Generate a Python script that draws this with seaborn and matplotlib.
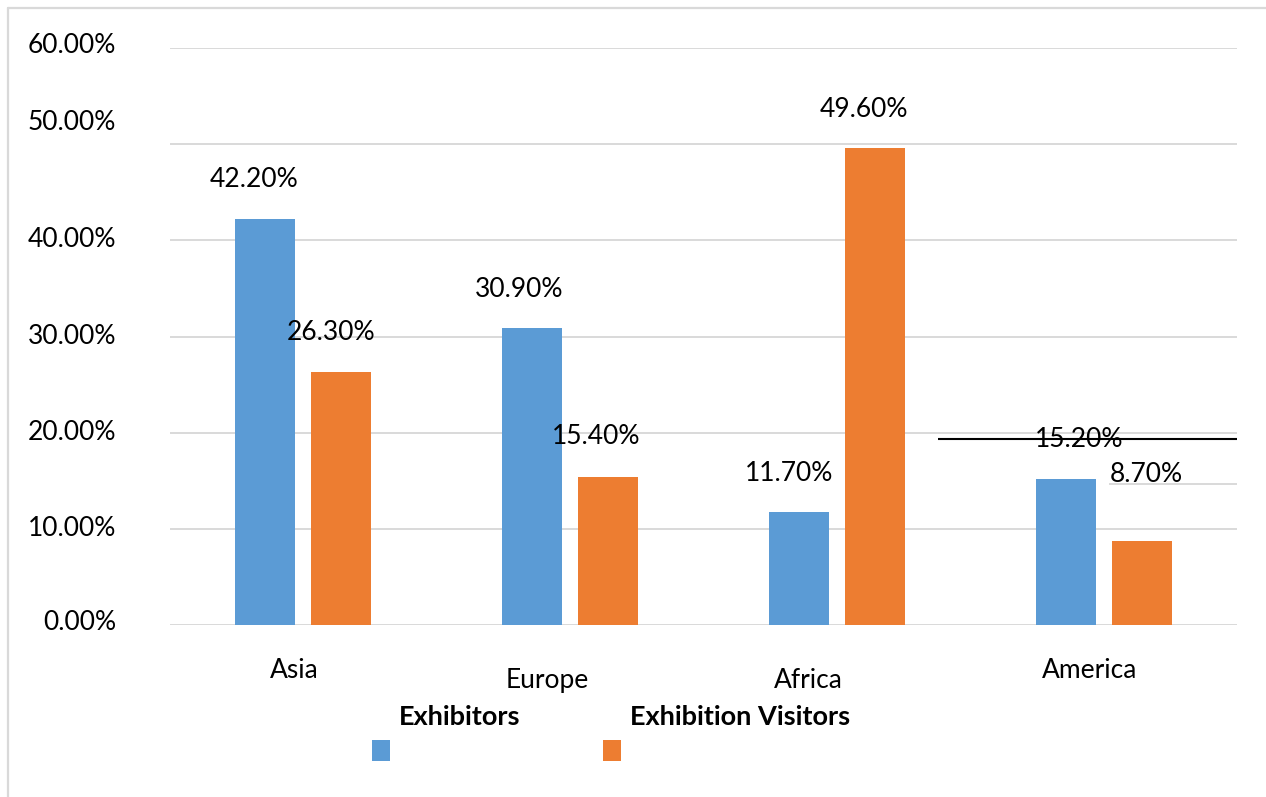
import numpy as np
import pandas as pd
import matplotlib
matplotlib.use("Agg")
import matplotlib.pyplot as plt
import seaborn as sns
from matplotlib.lines import Line2D
from matplotlib.patches import Rectangle

# ---------------- data ----------------
categories = ["Asia", "Europe", "Africa", "America"]
series_names = ["Exhibitors", "Exhibition Visitors"]
exhibitors = [0.422, 0.309, 0.117, 0.152]
visitors = [0.263, 0.154, 0.496, 0.087]
ytick_values = [0.0, 0.1, 0.2, 0.3, 0.4, 0.5, 0.6]
ytick_labels = ["0.00%", "10.00%", "20.00%", "30.00%", "40.00%", "50.00%", "60.00%"]

# ---------------- style ----------------
colors = ["#5B9BD5", "#ED7D31"]
grid_color = "#D9D9D9"
FS = 19
FS_LEG = 19.5

# label offsets in pixels (dx, dy above bar top to baseline)
label_dx = [[-11.5, -12.5, -9.5, 13.5], [-10.5, -11.5, -11.0, 4.5]]
label_dy = [[32, 31, 31.5, 32], [32, 33, 31, 59]]
cat_dx = [-9.4, -23, -29, -13.6]
cat_dy = [53, 63, 63, 53]
ytick_dy = [5, 7, 7, 8, 7, -14, 5]

W, H = 1266, 797
sns.set_theme(style="white")
plt.rcParams["font.family"] = ["Lato", "DejaVu Sans"]

df = pd.DataFrame({
    "category": categories * 2,
    "series": [series_names[0]] * len(categories) + [series_names[1]] * len(categories),
    "value": exhibitors + visitors,
})

fig = plt.figure(figsize=(W / 100, H / 100), dpi=100)
ax = fig.add_axes([170 / W, 1 - 625 / H, (1237 - 170) / W, (625 - 48) / H])

sns.barplot(data=df, x="category", y="value", hue="series", order=categories,
            hue_order=series_names, palette=colors, saturation=1, width=0.57,
            gap=0.21, linewidth=0, legend=False, ax=ax)

ax.set_ylim(0, 0.6)
ax.set_xlim(-0.5, len(categories) - 0.5)
ax.set_yticks(ytick_values)
ax.yaxis.grid(True, color=grid_color, lw=1.4)
ax.set_axisbelow(True)
ax.tick_params(left=False, bottom=False, labelleft=False, labelbottom=False)
ax.set_xlabel("")
ax.set_ylabel("")
for s in ax.spines.values():
    s.set_visible(False)

# y tick labels
for val, lab, dy in zip(ytick_values, ytick_labels, ytick_dy):
    ax.annotate(lab, xy=(0, val), xycoords=("axes fraction", "data"),
                xytext=(-54, -dy), textcoords="offset pixels",
                ha="right", va="baseline", fontsize=FS, color="#000000")

# category labels
for i, cat in enumerate(categories):
    ax.annotate(cat, xy=(i, 0), xycoords="data",
                xytext=(cat_dx[i], -cat_dy[i]), textcoords="offset pixels",
                ha="center", va="baseline", fontsize=FS, color="#000000")

# data labels
for h, cont in enumerate(ax.containers):
    for j, bar in enumerate(cont):
        xc = bar.get_x() + bar.get_width() / 2
        v = bar.get_height()
        ax.annotate(f"{v * 100:.2f}%", xy=(xc, v), xycoords="data",
                    xytext=(label_dx[h][j], label_dy[h][j]), textcoords="offset pixels",
                    ha="center", va="baseline", fontsize=FS, color="#000000")

# stray line artifacts in the original
black_line_y, black_line_x0 = 0.1933, 2.379
gray_line_y, gray_line_x0 = 0.1466, 3.02
ax.hlines(black_line_y, black_line_x0, len(categories) - 0.5, color="black", lw=1.5, zorder=5)
ax.hlines(gray_line_y, gray_line_x0, len(categories) - 0.5, color=grid_color, lw=1.4, zorder=1)

# legend (text above colour squares)
leg_text_x = [399, 630]
leg_sq_x = [372, 603]
for name, col, tx, sx in zip(series_names, colors, leg_text_x, leg_sq_x):
    fig.text(tx / W, 1 - 725 / H, name, ha="left", va="baseline",
             fontsize=FS_LEG, fontweight="bold", color="#000000")
    fig.add_artist(Rectangle((sx / W, 1 - 761 / H), 18 / W, 21 / H,
                             transform=fig.transFigure, color=col, lw=0))

# outer border (top and left visible)
fig.add_artist(Line2D([8 / W, 1], [1 - 8 / H, 1 - 8 / H], transform=fig.transFigure,
                      color=grid_color, lw=1.6))
fig.add_artist(Line2D([8 / W, 8 / W], [0, 1 - 8 / H], transform=fig.transFigure,
                      color=grid_color, lw=1.6))

fig.savefig("out.png", dpi=100)
